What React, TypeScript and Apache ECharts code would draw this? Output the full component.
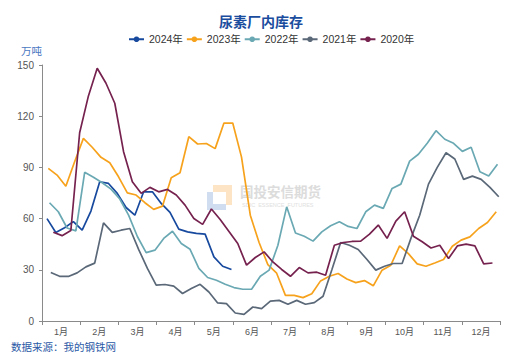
import React, { useEffect, useRef } from "react";
import * as echarts from "echarts";

const months = ["1月", "2月", "3月", "4月", "5月", "6月", "7月", "8月", "9月", "10月", "11月", "12月"];
const seriesNames = ["2024年", "2023年", "2022年", "2021年", "2020年"];
const colors = ["#17499e", "#f7a21c", "#6aa9b3", "#5a6878", "#76224f"];

// first weekly observation (day of year) of each year
const firstDay2024 = 4; // 2024-01-04
const firstDay2023 = 5; // 2023-01-05
const firstDay2022 = 6; // 2022-01-06
const firstDay2021 = 7; // 2021-01-07
const firstDay2020 = 9; // 2020-01-09

const values2024 = [60, 51.9, 54.6, 58.2, 53.2, 64.4, 81.6, 80.6, 74.8, 66.5, 62, 75.7, 75.7, 68.9, 63.6, 53.8, 52.2, 51.3, 50.9, 37.6, 32.1, 30.2];
const values2023 = [89.4, 85.5, 79, 93.3, 107, 101.8, 95.9, 92.7, 84.5, 75.1, 73.8, 69.3, 65.4, 67.3, 84, 86.9, 108, 103.7, 104, 101, 116, 116, 96, 62, 46, 33, 28, 15, 15, 13.7, 16, 23.5, 26.2, 27.8, 24.6, 22.5, 23.7, 20.6, 29.8, 32.7, 44, 39.5, 33.5, 32.1, 34, 36, 43.8, 47.4, 49.3, 54.2, 57.7, 64];
const values2022 = [69.3, 64, 54.5, 52.8, 87.1, 84.2, 81, 77.3, 71.5, 62, 49.5, 40.1, 41.5, 48.4, 52.6, 45.4, 42, 30.8, 25.5, 23.9, 21.5, 19.6, 18.6, 18.6, 26.2, 29.8, 44.4, 66.9, 51.6, 49.7, 46.8, 52.2, 55.8, 58.1, 55.4, 54.2, 64, 67.9, 66, 77.7, 80.2, 93.7, 97.7, 104.1, 111.5, 106.5, 104.1, 99.4, 101.8, 87.4, 84.9, 91.8];
const values2021 = [28.4, 26.2, 26.1, 28.2, 31.7, 33.9, 57.5, 51.9, 53.2, 54.2, 42, 30.8, 21, 21.4, 20.4, 16.1, 19, 21.5, 17, 10.6, 10.2, 4.7, 3.9, 8.2, 7.3, 11.7, 12.1, 9.8, 12.1, 9.8, 10.8, 14.5, 30, 46, 44.4, 41.9, 36, 29.8, 32.1, 33.7, 33.7, 48.4, 62, 80.2, 90, 98.6, 94.9, 83, 84.9, 83, 78.3, 72.8];
const values2020 = [52, 50, 53, 110.3, 131.9, 148.1, 139.3, 127.6, 99.2, 81.6, 74.8, 78.3, 75.7, 77.1, 73.8, 67.9, 60.1, 56.6, 65.6, 59.5, 52.5, 45.4, 32.7, 37.2, 40.5, 34.6, 30.2, 26.2, 31.3, 28.2, 28.6, 26.8, 44.4, 46, 46.6, 46.8, 50.9, 56.2, 48.4, 58.5, 64, 49.7, 46.4, 42.8, 44.4, 36.6, 44, 45, 44, 33.5, 34];

const weekly = (firstDay: number, vals: number[]) => vals.map((v, i) => [firstDay + 7 * i, v]);

const FONT = 'Arial, "Liberation Sans", "Noto Sans CJK SC", sans-serif';

export default function App() {
  const ref = useRef<HTMLDivElement>(null);
  useEffect(() => {
    if (!ref.current) return;
    const chart = echarts.init(ref.current, null, { renderer: "svg" });
    const all = [
      weekly(firstDay2024, values2024),
      weekly(firstDay2023, values2023),
      weekly(firstDay2022, values2022),
      weekly(firstDay2021, values2021),
      weekly(firstDay2020, values2020),
    ];
    chart.setOption({
      animation: false,
      backgroundColor: "#ffffff",
      textStyle: { fontFamily: FONT },
      title: {
        text: "尿素厂内库存",
        left: "center",
        top: 15,
        padding: 0,
        textStyle: { fontSize: 14, fontWeight: "bold", color: "#1b4d9e", fontFamily: FONT },
      },
      legend: {
        data: seriesNames,
        top: 34,
        left: 128,
        padding: 0,
        itemWidth: 15,
        itemHeight: 7,
        itemGap: 3,
        textStyle: { fontSize: 10.5, color: "#333", fontFamily: FONT },
      },
      grid: { left: 42, right: 22, top: 65, bottom: 39, containLabel: false },
      xAxis: [
        {
          type: "category",
          data: months,
          boundaryGap: true,
          axisLine: { show: true, lineStyle: { color: "#8a8a8a", width: 1 } },
          axisTick: { show: true, length: 4, alignWithLabel: false, lineStyle: { color: "#8a8a8a" } },
          axisLabel: { fontSize: 9, color: "#555", margin: 6, fontFamily: FONT },
          splitLine: { show: false },
        },
        {
          type: "value",
          min: 0,
          max: 365,
          show: false,
        },
      ],
      yAxis: {
        type: "value",
        min: 0,
        max: 150,
        interval: 30,
        name: "万吨",
        nameLocation: "end",
        nameGap: 9,
        nameTextStyle: { color: "#4a78c2", fontSize: 10.5, align: "right", fontFamily: FONT },
        axisLine: { show: true, lineStyle: { color: "#8a8a8a", width: 1 } },
        axisTick: { show: true, length: 3, lineStyle: { color: "#8a8a8a" } },
        axisLabel: { fontSize: 10, color: "#555", margin: 8, fontFamily: FONT },
        splitLine: { show: false },
      },
      graphic: [
        { type: "rect", z: 0, shape: { x: 213, y: 185, width: 19, height: 20 }, style: { fill: "#fce4c4" } },
        { type: "rect", z: 0, shape: { x: 207, y: 192, width: 19, height: 18 }, style: { fill: "#d0dcf0" } },
        { type: "rect", z: 0, shape: { x: 213, y: 192, width: 13, height: 12 }, style: { fill: "#ffffff" } },
        {
          type: "text",
          z: 0,
          x: 240,
          y: 186,
          style: { text: "国投安信期货", fontSize: 13.5, fontWeight: "bold", fill: "#dcdcdc", fontFamily: FONT },
        },
        {
          type: "text",
          z: 0,
          x: 242,
          y: 202,
          style: { text: "SDIC  ESSENCE  FUTURES", fontSize: 5.5, fill: "#e0e0e0", fontFamily: FONT },
        },
        {
          type: "text",
          left: 11,
          top: 342,
          style: { text: "数据来源：我的钢铁网", fontSize: 10.5, fill: "#2b59a6", fontFamily: FONT },
        },
      ],
      series: seriesNames.map((name, i) => ({
        name,
        type: "line",
        xAxisIndex: 1,
        data: all[i],
        symbol: "circle",
        symbolSize: 6,
        showSymbol: false,
        smooth: false,
        z: 3,
        color: colors[i],
        itemStyle: { color: colors[i] },
        lineStyle: { color: colors[i], width: 1.7 },
      })),
    });
    return () => chart.dispose();
  }, []);
  return (
    <div
      ref={ref}
      style={{ position: "fixed", left: 0, top: 0, width: 522, height: 360, background: "#fff" }}
    />
  );
}
